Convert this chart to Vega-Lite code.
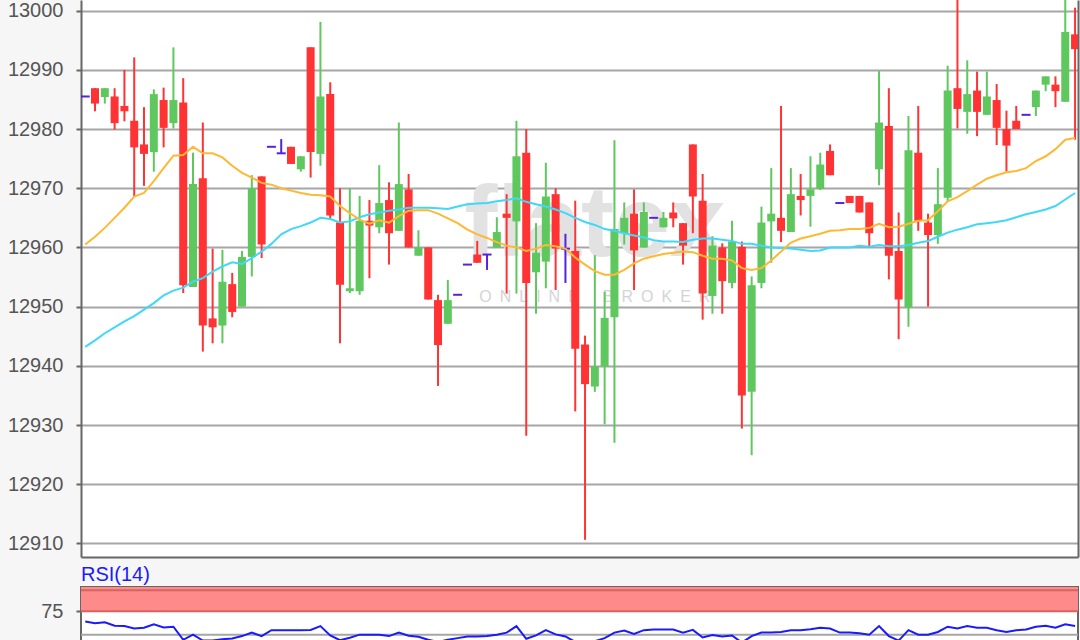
{
"$schema": "https://vega.github.io/schema/vega-lite/v6.json",
"background": "#f6f6f6",
"padding": {"left": 7, "top": 0, "right": 0, "bottom": 0},
"config": {"view": {"stroke": null}, "font": "Liberation Sans"},
"data": {"values": [
{"i":0,"o":12985.5,"h":12985.5,"l":12985.5,"c":12985.5,"m1":12960.5,"m2":12943.2,"r":64.0},
{"i":1,"o":12986.9,"h":12986.9,"l":12983.0,"c":12984.3,"m1":12961.8,"m2":12944.3,"r":62.1},
{"i":2,"o":12985.4,"h":12986.9,"l":12984.3,"c":12986.9,"m1":12963.3,"m2":12945.5,"r":63.2},
{"i":3,"o":12985.5,"h":12986.9,"l":12979.9,"c":12981.0,"m1":12965.0,"m2":12946.5,"r":59.5},
{"i":4,"o":12983.9,"h":12990.0,"l":12981.3,"c":12983.0,"m1":12966.7,"m2":12947.5,"r":59.2},
{"i":5,"o":12981.4,"h":12992.1,"l":12968.6,"c":12976.9,"m1":12968.6,"m2":12948.4,"r":56.6},
{"i":6,"o":12977.4,"h":12983.7,"l":12970.4,"c":12975.8,"m1":12969.2,"m2":12949.5,"r":57.4},
{"i":7,"o":12976.1,"h":12986.7,"l":12972.8,"c":12985.9,"m1":12971.2,"m2":12950.6,"r":61.0},
{"i":8,"o":12984.9,"h":12987.0,"l":12976.9,"c":12980.2,"m1":12973.4,"m2":12951.9,"r":57.7},
{"i":9,"o":12981.0,"h":12993.8,"l":12980.1,"c":12984.9,"m1":12975.5,"m2":12952.7,"r":58.5},
{"i":10,"o":12984.5,"h":12988.6,"l":12952.3,"c":12953.6,"m1":12975.6,"m2":12953.2,"r":44.5},
{"i":11,"o":12953.3,"h":12976.0,"l":12953.3,"c":12970.7,"m1":12977.0,"m2":12954.2,"r":50.0},
{"i":12,"o":12971.7,"h":12981.1,"l":12942.4,"c":12946.8,"m1":12975.9,"m2":12954.8,"r":43.7},
{"i":13,"o":12948.0,"h":12959.8,"l":12943.8,"c":12946.5,"m1":12975.9,"m2":12955.9,"r":43.7},
{"i":14,"o":12946.8,"h":12959.6,"l":12943.8,"c":12954.2,"m1":12975.2,"m2":12956.8,"r":45.2},
{"i":15,"o":12953.8,"h":12955.7,"l":12948.2,"c":12949.1,"m1":12973.8,"m2":12957.5,"r":45.9},
{"i":16,"o":12950.0,"h":12959.4,"l":12950.0,"c":12958.4,"m1":12972.6,"m2":12957.2,"r":48.5},
{"i":17,"o":12958.4,"h":12972.2,"l":12955.1,"c":12970.0,"m1":12971.8,"m2":12958.2,"r":52.2},
{"i":18,"o":12972.0,"h":12972.0,"l":12958.2,"c":12960.5,"m1":12970.9,"m2":12959.3,"r":48.5},
{"i":19,"o":12977.0,"h":12977.0,"l":12977.0,"c":12977.0,"m1":12970.6,"m2":12960.6,"r":54.8},
{"i":20,"o":12975.9,"h":12978.3,"l":12975.9,"c":12975.9,"m1":12970.0,"m2":12962.2,"r":54.8},
{"i":21,"o":12977.0,"h":12977.0,"l":12974.1,"c":12974.1,"m1":12969.6,"m2":12963.1,"r":54.8},
{"i":22,"o":12973.2,"h":12975.4,"l":12972.8,"c":12975.4,"m1":12969.2,"m2":12963.6,"r":54.8},
{"i":23,"o":12993.8,"h":12993.8,"l":12971.8,"c":12976.1,"m1":12968.9,"m2":12964.2,"r":55.1},
{"i":24,"o":12975.8,"h":12998.1,"l":12973.8,"c":12985.5,"m1":12968.8,"m2":12965.0,"r":59.2},
{"i":25,"o":12985.9,"h":12987.9,"l":12964.8,"c":12965.4,"m1":12968.6,"m2":12964.8,"r":49.2},
{"i":26,"o":12964.2,"h":12970.0,"l":12943.8,"c":12953.7,"m1":12967.0,"m2":12964.2,"r":44.1},
{"i":27,"o":12952.6,"h":12970.0,"l":12952.3,"c":12953.1,"m1":12965.8,"m2":12964.4,"r":46.7},
{"i":28,"o":12952.6,"h":12968.7,"l":12952.0,"c":12964.5,"m1":12964.7,"m2":12965.1,"r":50.0},
{"i":29,"o":12964.5,"h":12968.0,"l":12954.8,"c":12963.7,"m1":12964.0,"m2":12965.6,"r":50.0},
{"i":30,"o":12963.4,"h":12973.9,"l":12962.4,"c":12967.5,"m1":12964.6,"m2":12965.9,"r":50.0},
{"i":31,"o":12968.0,"h":12971.0,"l":12957.1,"c":12962.4,"m1":12964.2,"m2":12966.2,"r":48.5},
{"i":32,"o":12962.8,"h":12981.1,"l":12962.8,"c":12970.7,"m1":12965.3,"m2":12966.4,"r":52.2},
{"i":33,"o":12969.8,"h":12972.4,"l":12960.0,"c":12960.0,"m1":12966.2,"m2":12966.7,"r":48.9},
{"i":34,"o":12958.6,"h":12962.9,"l":12958.6,"c":12960.0,"m1":12966.3,"m2":12966.7,"r":47.8},
{"i":35,"o":12960.0,"h":12960.0,"l":12951.2,"c":12951.2,"m1":12966.3,"m2":12966.7,"r":44.5},
{"i":36,"o":12951.1,"h":12952.0,"l":12936.6,"c":12943.5,"m1":12965.7,"m2":12966.6,"r":42.2},
{"i":37,"o":12947.1,"h":12954.5,"l":12947.1,"c":12951.1,"m1":12964.9,"m2":12966.5,"r":44.5},
{"i":38,"o":12952.0,"h":12952.0,"l":12952.0,"c":12952.0,"m1":12964.1,"m2":12966.9,"r":46.3},
{"i":39,"o":12957.1,"h":12957.1,"l":12957.1,"c":12957.1,"m1":12963.0,"m2":12967.3,"r":48.1},
{"i":40,"o":12958.8,"h":12961.1,"l":12957.4,"c":12957.4,"m1":12962.2,"m2":12967.4,"r":48.1},
{"i":41,"o":12958.8,"h":12958.8,"l":12956.2,"c":12958.8,"m1":12961.6,"m2":12967.5,"r":48.5},
{"i":42,"o":12960.0,"h":12965.1,"l":12960.0,"c":12962.6,"m1":12960.9,"m2":12967.8,"r":50.0},
{"i":43,"o":12965.7,"h":12969.0,"l":12952.2,"c":12965.0,"m1":12960.3,"m2":12968.0,"r":52.2},
{"i":44,"o":12964.4,"h":12981.4,"l":12952.2,"c":12975.4,"m1":12960.0,"m2":12968.3,"r":59.2},
{"i":45,"o":12976.0,"h":12980.0,"l":12928.2,"c":12954.0,"m1":12959.4,"m2":12967.7,"r":45.6},
{"i":46,"o":12955.8,"h":12964.1,"l":12948.8,"c":12959.1,"m1":12959.8,"m2":12967.3,"r":49.2},
{"i":47,"o":12957.6,"h":12974.3,"l":12953.1,"c":12968.6,"m1":12960.4,"m2":12966.9,"r":54.8},
{"i":48,"o":12969.0,"h":12970.0,"l":12952.8,"c":12959.8,"m1":12960.2,"m2":12966.4,"r":50.3},
{"i":49,"o":12959.8,"h":12962.3,"l":12954.0,"c":12959.8,"m1":12959.8,"m2":12965.8,"r":48.1},
{"i":50,"o":12959.4,"h":12967.9,"l":12932.3,"c":12942.9,"m1":12958.3,"m2":12965.0,"r":42.2},
{"i":51,"o":12943.6,"h":12945.1,"l":12910.6,"c":12936.9,"m1":12957.1,"m2":12964.3,"r":41.5},
{"i":52,"o":12936.5,"h":12958.7,"l":12935.6,"c":12939.9,"m1":12956.0,"m2":12963.8,"r":43.0},
{"i":53,"o":12939.9,"h":12952.5,"l":12930.1,"c":12948.1,"m1":12955.4,"m2":12963.1,"r":46.3},
{"i":54,"o":12948.2,"h":12978.1,"l":12927.0,"c":12963.1,"m1":12955.4,"m2":12962.8,"r":52.2},
{"i":55,"o":12962.4,"h":12967.6,"l":12960.5,"c":12965.0,"m1":12956.2,"m2":12962.4,"r":54.4},
{"i":56,"o":12965.7,"h":12969.8,"l":12952.8,"c":12959.5,"m1":12957.3,"m2":12962.0,"r":50.7},
{"i":57,"o":12960.0,"h":12967.6,"l":12960.0,"c":12966.0,"m1":12958.1,"m2":12961.7,"r":54.8},
{"i":58,"o":12965.0,"h":12965.0,"l":12965.0,"c":12965.0,"m1":12958.5,"m2":12961.2,"r":55.5},
{"i":59,"o":12963.4,"h":12966.0,"l":12963.4,"c":12965.0,"m1":12958.9,"m2":12961.0,"r":55.5},
{"i":60,"o":12965.9,"h":12967.6,"l":12963.4,"c":12964.9,"m1":12959.1,"m2":12961.0,"r":55.5},
{"i":61,"o":12964.1,"h":12964.1,"l":12957.1,"c":12960.3,"m1":12959.3,"m2":12960.9,"r":52.2},
{"i":62,"o":12977.4,"h":12977.4,"l":12962.4,"c":12968.6,"m1":12959.2,"m2":12961.3,"r":55.1},
{"i":63,"o":12967.9,"h":12972.4,"l":12947.8,"c":12952.2,"m1":12958.6,"m2":12961.5,"r":47.0},
{"i":64,"o":12951.8,"h":12961.9,"l":12948.8,"c":12960.3,"m1":12958.1,"m2":12961.5,"r":49.6},
{"i":65,"o":12960.0,"h":12960.7,"l":12948.8,"c":12954.3,"m1":12958.1,"m2":12961.3,"r":48.1},
{"i":66,"o":12954.0,"h":12964.5,"l":12953.1,"c":12961.0,"m1":12957.8,"m2":12961.1,"r":49.2},
{"i":67,"o":12960.1,"h":12961.0,"l":12929.4,"c":12935.0,"m1":12956.5,"m2":12960.6,"r":41.5},
{"i":68,"o":12935.6,"h":12955.1,"l":12924.9,"c":12953.6,"m1":12956.2,"m2":12960.6,"r":48.5},
{"i":69,"o":12954.0,"h":12966.9,"l":12953.1,"c":12964.2,"m1":12956.5,"m2":12960.3,"r":52.2},
{"i":70,"o":12964.4,"h":12973.4,"l":12957.4,"c":12965.7,"m1":12957.8,"m2":12960.0,"r":52.2},
{"i":71,"o":12965.0,"h":12983.9,"l":12960.9,"c":12962.8,"m1":12959.3,"m2":12959.9,"r":52.9},
{"i":72,"o":12962.6,"h":12973.4,"l":12962.6,"c":12969.0,"m1":12960.8,"m2":12959.8,"r":54.8},
{"i":73,"o":12968.7,"h":12972.4,"l":12965.4,"c":12968.0,"m1":12961.5,"m2":12959.6,"r":54.8},
{"i":74,"o":12968.7,"h":12975.4,"l":12963.5,"c":12969.8,"m1":12961.9,"m2":12959.4,"r":55.9},
{"i":75,"o":12969.9,"h":12976.0,"l":12969.7,"c":12974.0,"m1":12962.3,"m2":12959.5,"r":57.4},
{"i":76,"o":12976.3,"h":12977.4,"l":12972.2,"c":12972.2,"m1":12962.8,"m2":12960.0,"r":56.6},
{"i":77,"o":12967.5,"h":12967.5,"l":12967.5,"c":12967.5,"m1":12962.9,"m2":12960.0,"r":52.2},
{"i":78,"o":12968.7,"h":12968.7,"l":12967.5,"c":12967.5,"m1":12963.1,"m2":12960.0,"r":52.2},
{"i":79,"o":12968.7,"h":12968.7,"l":12965.9,"c":12965.9,"m1":12963.1,"m2":12960.3,"r":51.5},
{"i":80,"o":12967.6,"h":12967.6,"l":12960.0,"c":12962.4,"m1":12963.3,"m2":12960.1,"r":50.0},
{"i":81,"o":12973.2,"h":12989.8,"l":12970.5,"c":12981.1,"m1":12964.0,"m2":12960.4,"r":59.2},
{"i":82,"o":12980.5,"h":12986.9,"l":12954.6,"c":12958.6,"m1":12963.4,"m2":12960.2,"r":48.5},
{"i":83,"o":12959.4,"h":12965.9,"l":12944.5,"c":12951.2,"m1":12963.5,"m2":12960.2,"r":43.7},
{"i":84,"o":12949.9,"h":12982.2,"l":12946.6,"c":12976.4,"m1":12964.0,"m2":12960.4,"r":54.8},
{"i":85,"o":12976.0,"h":12983.9,"l":12962.8,"c":12964.5,"m1":12964.5,"m2":12960.8,"r":50.0},
{"i":86,"o":12964.2,"h":12965.7,"l":12950.0,"c":12962.1,"m1":12964.6,"m2":12961.1,"r":50.0},
{"i":87,"o":12962.1,"h":12973.4,"l":12960.6,"c":12967.3,"m1":12966.1,"m2":12961.8,"r":52.9},
{"i":88,"o":12968.4,"h":12990.7,"l":12967.7,"c":12986.5,"m1":12967.8,"m2":12962.5,"r":58.5},
{"i":89,"o":12986.9,"h":13003.0,"l":12980.1,"c":12983.4,"m1":12968.5,"m2":12963.0,"r":56.6},
{"i":90,"o":12982.9,"h":12991.6,"l":12979.2,"c":12985.9,"m1":12969.5,"m2":12963.4,"r":59.2},
{"i":91,"o":12986.5,"h":12989.7,"l":12978.8,"c":12982.9,"m1":12970.6,"m2":12963.9,"r":57.4},
{"i":92,"o":12982.4,"h":12989.7,"l":12982.4,"c":12985.5,"m1":12971.6,"m2":12964.1,"r":57.4},
{"i":93,"o":12984.9,"h":12987.6,"l":12977.3,"c":12980.2,"m1":12972.2,"m2":12964.3,"r":54.8},
{"i":94,"o":12980.0,"h":12983.1,"l":12972.8,"c":12977.2,"m1":12972.7,"m2":12964.6,"r":52.9},
{"i":95,"o":12981.4,"h":12983.9,"l":12980.0,"c":12980.0,"m1":12972.9,"m2":12965.1,"r":54.8},
{"i":96,"o":12982.4,"h":12982.4,"l":12982.4,"c":12982.4,"m1":12973.4,"m2":12965.6,"r":55.5},
{"i":97,"o":12983.7,"h":12986.5,"l":12982.2,"c":12986.5,"m1":12974.6,"m2":12966.0,"r":58.5},
{"i":98,"o":12987.5,"h":12988.9,"l":12986.4,"c":12988.9,"m1":12975.4,"m2":12966.4,"r":59.5},
{"i":99,"o":12987.5,"h":12988.9,"l":12983.7,"c":12986.4,"m1":12976.6,"m2":12967.0,"r":57.4},
{"i":100,"o":12984.6,"h":13003.0,"l":12984.6,"c":12996.4,"m1":12978.2,"m2":12968.1,"r":61.0},
{"i":101,"o":12996.0,"h":13000.5,"l":12978.2,"c":12993.5,"m1":12978.5,"m2":12969.2,"r":59.2}
]},
"spacing": 7,
"vconcat": [
{
"width": 997, "height": 557,
"view": {"fill": "white", "stroke": null},
"resolve": {"axis": {"y": "independent"}},
"layer": [
{"data": {"values": [{"t": "flatex"}]},
 "mark": {"type": "text", "fontSize": 100, "fontWeight": "bold", "color": "#e2e2e2", "align": "center", "baseline": "alphabetic", "font": "Liberation Sans"},
 "encoding": {
  "text": {"field": "t"},
  "x": {"datum": 52.0, "type": "quantitative", "scale": {"domain": [-0.43, 101.3], "nice": false, "zero": false, "padding": 0}, "axis": {"domain": true, "domainColor": "#666666", "domainWidth": 2, "labels": false, "ticks": false, "grid": false, "title": null}},
  "y": {"datum": 12958.6, "type": "quantitative", "scale": {"domain": [12907.7, 13001.8], "nice": false, "zero": false}, "axis": null}}},
{"data": {"values": [{"t": "O\u2002N\u2002L\u2002I\u2002N\u2002E\u2002\u2002\u2002B\u2002R\u2002O\u2002K\u2002E\u2002R"}]},
 "mark": {"type": "text", "fontSize": 16, "color": "#d4d4d4", "align": "center", "baseline": "middle", "font": "Liberation Sans"},
 "encoding": {
  "text": {"field": "t"},
  "x": {"datum": 52.0, "type": "quantitative", "scale": {"domain": [-0.43, 101.3], "nice": false, "zero": false, "padding": 0}, "axis": {"domain": true, "domainColor": "#666666", "domainWidth": 2, "labels": false, "ticks": false, "grid": false, "title": null}},
  "y": {"datum": 12951.6, "type": "quantitative", "scale": {"domain": [12907.7, 13001.8], "nice": false, "zero": false}, "axis": null}}},
{"transform": [{"calculate": "datum.c > datum.o ? 'up' : (datum.c < datum.o ? 'down' : 'flat')", "as": "dir"}],
 "mark": {"type": "rule", "strokeWidth": 2, "clip": true},
 "encoding": {
  "x": {"field": "i", "type": "quantitative", "scale": {"domain": [-0.43, 101.3], "nice": false, "zero": false, "padding": 0}, "axis": {"domain": true, "domainColor": "#666666", "domainWidth": 2, "labels": false, "ticks": false, "grid": false, "title": null}},
  "y": {"field": "l", "type": "quantitative", "scale": {"domain": [12907.7, 13001.8], "nice": false, "zero": false},
        "axis": {"values": [12910, 12920, 12930, 12940, 12950, 12960, 12970, 12980, 12990, 13000], "format": "d", "title": null, "labelFontSize": 20, "labelColor": "#555555", "labelFont": "Liberation Sans", "labelPadding": 13, "tickSize": 5, "tickColor": "#666666", "tickWidth": 2, "domainColor": "#666666", "domainWidth": 2, "grid": true, "gridColor": "#a6a6a6", "gridWidth": 2}},
  "y2": {"field": "h"},
  "color": {"field": "dir", "type": "nominal", "scale": {"domain": ["up", "down", "flat"], "range": ["#5ec85e", "#ff3333", "#5522dd"]}, "legend": null}}},
{"transform": [{"calculate": "datum.c > datum.o ? 'up' : (datum.c < datum.o ? 'down' : 'flat')", "as": "dir"}, {"filter": "datum.dir != 'flat'"}],
 "mark": {"type": "bar", "size": 8, "clip": true, "orient": "vertical"},
 "encoding": {
  "x": {"field": "i", "type": "quantitative", "scale": {"domain": [-0.43, 101.3], "nice": false, "zero": false, "padding": 0}, "axis": {"domain": true, "domainColor": "#666666", "domainWidth": 2, "labels": false, "ticks": false, "grid": false, "title": null}},
  "y": {"field": "o", "type": "quantitative", "scale": {"domain": [12907.7, 13001.8], "nice": false, "zero": false}, "axis": null},
  "y2": {"field": "c"},
  "color": {"field": "dir", "type": "nominal", "scale": {"domain": ["up", "down", "flat"], "range": ["#5ec85e", "#ff3333", "#5522dd"]}, "legend": null}}},
{"transform": [{"filter": "datum.c == datum.o"}],
 "mark": {"type": "tick", "orient": "horizontal", "size": 9, "thickness": 2, "color": "#5522dd", "clip": true, "opacity": 1},
 "encoding": {
  "x": {"field": "i", "type": "quantitative", "scale": {"domain": [-0.43, 101.3], "nice": false, "zero": false, "padding": 0}, "axis": {"domain": true, "domainColor": "#666666", "domainWidth": 2, "labels": false, "ticks": false, "grid": false, "title": null}},
  "y": {"field": "c", "type": "quantitative", "scale": {"domain": [12907.7, 13001.8], "nice": false, "zero": false}, "axis": null}}},
{"mark": {"type": "line", "color": "#3fd8fa", "strokeWidth": 2, "clip": true},
 "encoding": {
  "x": {"field": "i", "type": "quantitative", "scale": {"domain": [-0.43, 101.3], "nice": false, "zero": false, "padding": 0}, "axis": {"domain": true, "domainColor": "#666666", "domainWidth": 2, "labels": false, "ticks": false, "grid": false, "title": null}},
  "y": {"field": "m2", "type": "quantitative", "scale": {"domain": [12907.7, 13001.8], "nice": false, "zero": false}, "axis": null}}},
{"mark": {"type": "line", "color": "#ffb833", "strokeWidth": 2, "clip": true},
 "encoding": {
  "x": {"field": "i", "type": "quantitative", "scale": {"domain": [-0.43, 101.3], "nice": false, "zero": false, "padding": 0}, "axis": {"domain": true, "domainColor": "#666666", "domainWidth": 2, "labels": false, "ticks": false, "grid": false, "title": null}},
  "y": {"field": "m1", "type": "quantitative", "scale": {"domain": [12907.7, 13001.8], "nice": false, "zero": false},
        "axis": {"orient": "right", "labels": false, "ticks": false, "grid": false, "domain": true, "domainColor": "#666666", "domainWidth": 2, "title": null}}}}
]
},
{
"width": 997, "height": 56,
"title": {"text": "RSI(14)", "anchor": "start", "frame": "group", "color": "#1a1aff", "fontSize": 20, "fontWeight": "normal", "font": "Liberation Sans", "offset": -14, "baseline": "alphabetic"},
"view": {"fill": "white", "stroke": "#666666", "strokeWidth": 2},
"layer": [
{"data": {"values": [{}]},
 "mark": {"type": "rect", "color": "#ff8a8a"},
 "encoding": {
  "y": {"datum": 75, "type": "quantitative", "scale": {"domain": [41.1, 100.9], "nice": false, "zero": false},
        "axis": {"values": [75], "title": null, "labelFontSize": 20, "labelColor": "#555555", "labelFont": "Liberation Sans", "labelPadding": 13, "tickSize": 5, "tickColor": "#666666", "tickWidth": 2, "domain": false, "grid": false}},
  "y2": {"datum": 100.9}}},
{"data": {"values": [{"v": 75}, {"v": 97.5}]},
 "mark": {"type": "rule", "color": "#d66262", "strokeWidth": 2},
 "encoding": {"y": {"field": "v", "type": "quantitative"}}},
{"data": {"values": [{"v": 50}]},
 "mark": {"type": "rule", "color": "#a6a6a6", "strokeWidth": 2},
 "encoding": {"y": {"field": "v", "type": "quantitative"}}},
{"mark": {"type": "line", "color": "#1a1aff", "strokeWidth": 2, "clip": true},
 "encoding": {
  "x": {"field": "i", "type": "quantitative", "scale": {"domain": [-0.43, 101.3], "nice": false, "zero": false, "padding": 0}, "axis": null},
  "y": {"field": "r", "type": "quantitative"}}}
]
}
]
}
